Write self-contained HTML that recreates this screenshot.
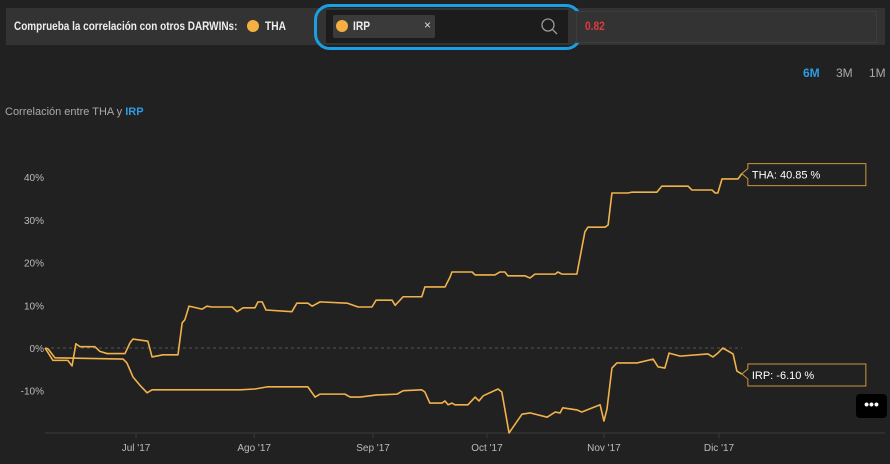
<!DOCTYPE html>
<html><head><meta charset="utf-8">
<style>
body{margin:0;width:890px;height:464px;background:#212121;font-family:"Liberation Sans",sans-serif;overflow:hidden;position:relative}
.abs{position:absolute}
</style></head>
<body>
<div class="abs" style="left:6px;top:8px;width:879px;height:37px;background:#333"></div>
<div class="abs" style="left:14px;top:19px;font-size:12px;color:#eee;font-weight:bold;white-space:nowrap;transform:scaleX(0.83);transform-origin:0 0">Comprueba la correlación con otros DARWINs:</div>
<div class="abs" style="left:247px;top:20px;width:12px;height:12px;border-radius:50%;background:#f5b041"></div>
<div class="abs" style="left:265px;top:19px;font-size:12px;color:#eee;font-weight:bold;transform:scaleX(0.85);transform-origin:0 0">THA</div>
<div class="abs" style="left:326px;top:10px;width:242px;height:33px;background:#1c1c1c"></div>
<div class="abs" style="left:333px;top:15px;width:102px;height:23px;background:#3a3a3a;border-radius:2px"></div>
<div class="abs" style="left:336px;top:20px;width:12px;height:12px;border-radius:50%;background:#f5b041"></div>
<div class="abs" style="left:353px;top:19px;font-size:12px;color:#eee;font-weight:bold;transform:scaleX(0.85);transform-origin:0 0">IRP</div>
<div class="abs" style="left:424px;top:18px;font-size:12px;color:#ddd">×</div>
<svg class="abs" style="left:540px;top:17px" width="20" height="20"><circle cx="8" cy="8" r="6" stroke="#999" stroke-width="1.3" fill="none"/><line x1="12.5" y1="12.5" x2="17" y2="17" stroke="#999" stroke-width="1.3"/></svg>
<div class="abs" style="left:314px;top:4px;width:262px;height:40px;border:3px solid #1a9fe2;border-radius:16px"></div>
<div class="abs" style="left:576px;top:11px;width:299px;height:30px;border:1px solid #3d3d3d;background:#333"></div>
<div class="abs" style="left:585px;top:19px;font-size:12px;color:#e0393e;font-weight:bold;transform:scaleX(0.85);transform-origin:0 0">0.82</div>
<div class="abs" style="left:803px;top:66px;font-size:12px;color:#2e9be6;font-weight:bold">6M</div>
<div class="abs" style="left:836px;top:66px;font-size:12px;color:#aaa">3M</div>
<div class="abs" style="left:869px;top:66px;font-size:12px;color:#aaa">1M</div>
<div class="abs" style="left:5px;top:106px;font-size:11px;color:#aaa">Correlación entre THA y <b style="color:#2e9be6">IRP</b></div>
<div class="abs" style="left:856px;top:394px;width:31px;height:24px;background:#000;border-radius:4px;color:#fff;font-size:14px;font-weight:bold;text-align:center;line-height:20px">•••</div>
<svg id="chart" class="abs" style="left:0;top:0" width="890" height="464"></svg>
<script>
const yTicks=[40,30,20,10,0,-10];
const monthLabels=["Jul '17","Ago '17","Sep '17","Oct '17","Nov '17","Dic '17"];
const monthDays=[23.9,54.9,86.1,116,146.7,176.9];
const thaDays=[0,2.1,6.0,7.1,8.1,9.2,13.1,14.4,16.3,21.0,22.3,23.1,27.0,28.1,31.0,34.9,36.0,36.7,37.8,41.2,42.5,43.8,49.1,50.4,52.0,55.1,55.9,57.0,58.0,64.8,66.1,69.0,70.1,72.2,79.3,82.2,85.8,86.9,91.1,91.9,94.0,98.9,99.7,105.0,106.3,106.8,112.1,112.9,118.1,119.4,120.7,121.5,126.0,127.3,128.6,133.9,134.6,135.7,139.6,141.7,142.5,147.0,147.8,148.8,153.0,154.1,160.6,161.9,168.8,169.8,175.1,175.9,176.6,177.7,181.9,182.9];
const thaValues=[0,-2.9,-2.9,-4.2,1,0.3,0.3,-0.8,-1.3,-1.3,1.2,2.1,1.6,-2.1,-1.6,-1.6,5.9,6.6,9.8,9.1,9.8,9.6,9.6,8.5,9.4,9.4,10.8,10.8,8.9,8.5,10.5,10.5,9.8,10.8,10.5,9.6,9.6,11.2,11.2,10,12,12,14.3,14.3,16.6,17.8,17.8,17.1,17.1,17.8,17.8,16.9,16.9,16.4,17.3,17.3,17.8,17.3,17.3,27.2,28.3,28.3,28.8,36.3,36.3,36.5,36.5,37.9,37.9,37,37,36.3,36.3,39.6,39.6,40.85];
const irpDays=[0,0.8,2.6,20.5,21.5,23.1,24.9,26.8,28.1,51.2,55.1,58.3,66.9,69.0,70.9,72.2,78.7,80.1,82.7,87.1,92.4,94.0,98.9,99.7,101.0,104.2,105.0,105.8,106.8,107.6,111.0,112.9,113.9,115.0,118.9,119.9,121.8,125.2,127.3,131.8,133.9,135.2,135.9,139.6,140.9,145.7,146.7,147.5,148.8,150.1,155.4,159.6,160.9,162.7,163.8,166.7,174.0,175.3,176.6,177.9,180.6,181.6,182.9];
const irpValues=[0,-0.2,-2.3,-2.6,-3.5,-6.8,-8.7,-10.5,-9.8,-9.8,-9.6,-9.1,-9.1,-9.1,-11.5,-10.8,-10.8,-11.5,-11.5,-11,-10.8,-10,-9.8,-10.3,-12.9,-12.9,-12.4,-13.3,-12.9,-13.3,-13.3,-11.5,-12.4,-11.2,-9.6,-10.3,-19.9,-15.5,-15.2,-16.2,-15,-15.2,-14,-14.5,-15,-13.3,-17.1,-14.3,-4.7,-3.5,-3.5,-2.6,-4.4,-4.7,-1.2,-1.9,-1.4,-2.1,-1.2,0,-1.4,-5.4,-6.1];
const NS="http://www.w3.org/2000/svg";
const svg=document.getElementById('chart');
const xs=d=>45+d*3.81;
const ys=v=>348-v*4.27;
function mk(t,a){const e=document.createElementNS(NS,t);for(const k in a)e.setAttribute(k,a[k]);svg.appendChild(e);return e;}
let ax=mk('line',{x1:45,x2:885,y1:433,y2:433,stroke:'#3a3a3a','stroke-width':1});


let zl=mk('line',{x1:45,x2:742,y1:ys(0),y2:ys(0),stroke:'#555','stroke-width':1,'stroke-dasharray':'3,3'});


yTicks.forEach(v=>{
  const t=mk('text',{x:44,y:ys(v)+4,'text-anchor':'end','font-size':10,fill:'#bbb','font-family':'Liberation Sans'});
  t.textContent=v+'%';
  
  
});
monthLabels.forEach((m,i)=>{
  const x=xs(monthDays[i]);
  const tk=mk('line',{x1:x,x2:x,y1:433,y2:438,stroke:'#3a3a3a'});
  
  
  const t=mk('text',{x:x,y:451,'text-anchor':'middle','font-size':10,fill:'#bbb','font-family':'Liberation Sans'});
  t.textContent=m;
  
  
});
function line(days,vals,name){
  const p=mk('polyline',{points:days.map((d,i)=>xs(d)+','+ys(vals[i])).join(' '),fill:'none',stroke:'#f2b24b','stroke-width':1.6,'stroke-linejoin':'round'});
  
  
}
line(thaDays,thaValues,'tha-line');
line(irpDays,irpValues,'irp-line');
function label(days,vals,txt,name){
  const x=xs(days[days.length-1]),y=ys(vals[vals.length-1]);
  const g=document.createElementNS(NS,'g');svg.appendChild(g);
  
  
  const bx=x+6,by=y-10;
  const r=document.createElementNS(NS,'path');
  r.setAttribute('d',`M${x},${y} L${bx},${by+5} L${bx},${by} L${bx+118},${by} L${bx+118},${by+22} L${bx},${by+22} L${bx},${by+15} Z`);
  r.setAttribute('fill','#212121');r.setAttribute('stroke','#c9973e');r.setAttribute('stroke-width','1');
  g.appendChild(r);
  const t=document.createElementNS(NS,'text');
  t.setAttribute('x',bx+4);t.setAttribute('y',by+15);t.setAttribute('font-size','11');t.setAttribute('fill','#fff');t.setAttribute('font-family','Liberation Sans');
  t.textContent=txt;g.appendChild(t);
}
label(thaDays,thaValues,'THA: '+thaValues[thaValues.length-1].toFixed(2)+' %','tha-end-label');
label(irpDays,irpValues,'IRP: '+irpValues[irpValues.length-1].toFixed(2)+' %','irp-end-label');
</script>
</body></html>
